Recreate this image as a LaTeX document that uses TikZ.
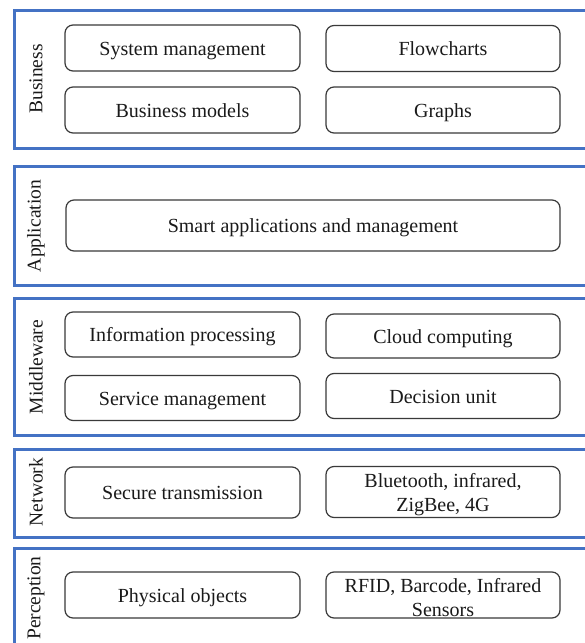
\documentclass[tikz,border=0pt]{standalone}
\usepackage{fontspec}
\setmainfont{Liberation Serif}
\definecolor{layerblue}{HTML}{4472C4}
\definecolor{boxgray}{HTML}{3A3A3A}
\definecolor{txt}{HTML}{1A1A1A}
\begin{document}
\begin{tikzpicture}[x=1pt,y=-1pt,
  layer/.style={draw=layerblue,line width=3pt},
  item/.style={draw=boxgray,line width=1.2pt,rounded corners=8pt,align=center,
    font=\fontsize{20}{24}\selectfont,text=txt,inner sep=0pt},
  oneline/.style={item,text height=14.5pt,text depth=0pt},
  lbl/.style={rotate=90,font=\fontsize{19.5}{23}\selectfont,text=txt,inner sep=0pt}]
\useasboundingbox (0,0) rectangle (585,643);
\fill[white] (0,0) rectangle (585,643);
% layer frames
\draw[layer] (14,10) rectangle (620,148);
\draw[layer] (14,166) rectangle (620,285);
\draw[layer] (14,298) rectangle (620,435);
\draw[layer] (14,449) rectangle (620,537);
\draw[layer] (14,548) rectangle (620,680);
% layer labels
\node[lbl] (lbus) at (36,79) {Business};
\node[lbl] (lapp) at (36,226) {Application};
\node[lbl] (lmid) at (36,367) {Middleware};
\node[lbl] (lnet) at (36,492) {Network};
\node[lbl] (lper) at (36,598) {Perception};
% Business
\node[oneline,minimum width=235pt,minimum height=46pt] (sysm) at (182.5,48) {System management};
\node[oneline,minimum width=235pt,minimum height=46pt] (bmod) at (182.5,110) {Business models};
\node[oneline,minimum width=234pt,minimum height=46pt] (flow) at (443,48.5) {Flowcharts};
\node[oneline,minimum width=234pt,minimum height=46pt] (grph) at (443,110) {Graphs};
% Application
\node[oneline,minimum width=494pt,minimum height=51pt] (smart) at (313,225.5) {Smart applications and management};
% Middleware
\node[oneline,minimum width=235pt,minimum height=45pt] (info) at (182.5,334.5) {Information processing};
\node[oneline,minimum width=235pt,minimum height=45pt] (serv) at (182.5,398) {Service management};
\node[oneline,minimum width=234pt,minimum height=44pt] (cloud) at (443,336) {Cloud computing};
\node[oneline,minimum width=234pt,minimum height=45pt] (dec) at (443,396) {Decision unit};
% Network
\node[oneline,minimum width=235pt,minimum height=51pt] (sec) at (182.5,492.5) {Secure transmission};
\node[item,minimum width=234pt,minimum height=51pt] (blue) at (443,492) {\rule{0pt}{20pt}Bluetooth, infrared,\\ZigBee, 4G};
% Perception
\node[oneline,minimum width=235pt,minimum height=46pt] (phys) at (182.5,595) {Physical objects};
\node[item,minimum width=234pt,minimum height=46pt] (rfid) at (443,595) {\rule{0pt}{19pt}RFID, Barcode, Infrared\\Sensors};
\end{tikzpicture}
\end{document}
